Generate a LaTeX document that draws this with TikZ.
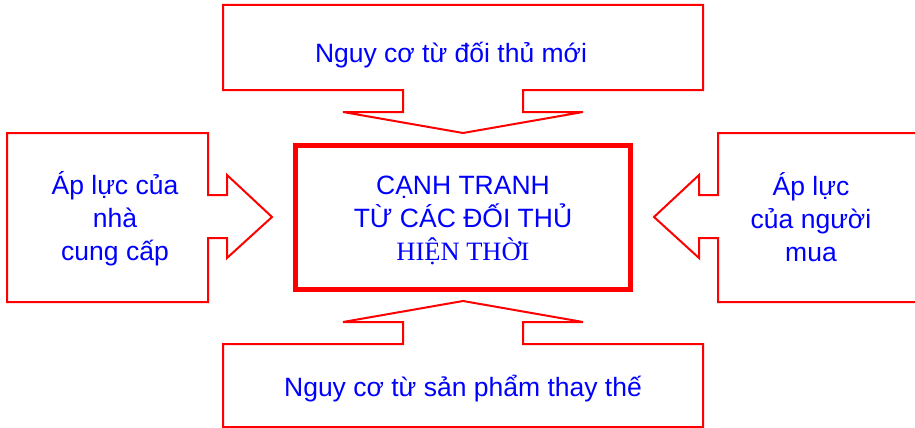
\documentclass[tikz,border=0pt]{standalone}
\usepackage{fontspec}
\setmainfont{Liberation Sans}
\newfontfamily\timesf{Liberation Serif}
\definecolor{cred}{RGB}{255,0,0}
\definecolor{cblue}{RGB}{0,0,255}
\begin{document}
\begin{tikzpicture}[x=1pt,y=-1pt,
  callout/.style={draw=cred,line width=2pt,line join=miter,fill=white},
  mainbox/.style={draw=cred,line width=5pt},
  lbl/.style={text=cblue,inner sep=0pt,font=\fontsize{26.5}{33}\selectfont,align=center}]
\useasboundingbox (0,0) rectangle (915,428);
\fill[white] (0,0) rectangle (915,428);
% top callout
\draw[callout] (223,5) -- (703,5) -- (703,90) -- (523,90) -- (523,112) -- (583,112)
  -- (463,133) -- (343,112) -- (403,112) -- (403,90) -- (223,90) -- cycle;
% bottom callout
\draw[callout] (223,427) -- (703,427) -- (703,344) -- (523,344) -- (523,322) -- (583,322)
  -- (463,301) -- (343,322) -- (403,322) -- (403,344) -- (223,344) -- cycle;
% left callout
\draw[callout] (7,133) -- (208,133) -- (208,195) -- (227,195) -- (227,175) -- (272,217)
  -- (227,258) -- (227,238) -- (208,238) -- (208,302) -- (7,302) -- cycle;
% right callout
\draw[callout] (920,133) -- (718,133) -- (718,195) -- (699,195) -- (699,175) -- (654,217)
  -- (699,258) -- (699,238) -- (718,238) -- (718,302) -- (920,302);
% centre box
\draw[mainbox] (295.5,145.5) rectangle (630.5,289.5);
% texts
\node[lbl,anchor=base] (top) at (451,63) {Nguy cơ từ đối thủ mới};
\node[lbl,anchor=base] (bottom) at (463,396) {Nguy cơ từ sản phẩm thay thế};
\node[lbl] (left) at (115,219) {Áp lực của\\nhà\\cung cấp};
\node[lbl] (right) at (811,217) {Áp lực\\của người\\mua};
\node[lbl] (center) at (463,220.5) {CẠNH TRANH\\TỪ CÁC ĐỐI THỦ\\{\timesf HIỆN THỜI}};
\end{tikzpicture}
\end{document}
